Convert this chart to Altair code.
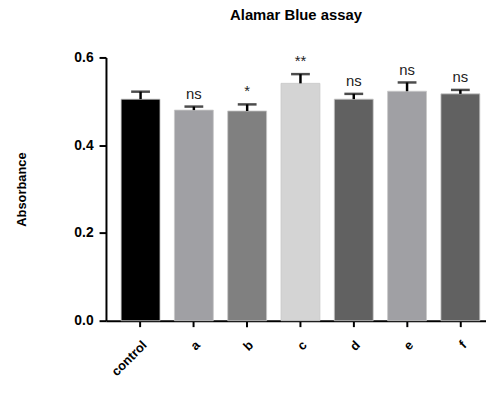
import altair as alt
import pandas as pd

groups = ["control", "a", "b", "c", "d", "e", "f"]
means = [0.505, 0.480, 0.478, 0.541, 0.505, 0.523, 0.517]
errors = [0.017, 0.008, 0.015, 0.021, 0.012, 0.020, 0.009]
colors = ["#000000", "#a0a0a4", "#808080", "#d4d4d4", "#616161", "#a0a0a4", "#616161"]
signif = ["", "ns", "*", "**", "ns", "ns", "ns"]

df = pd.DataFrame({"group": groups, "mean": means, "err": errors,
                   "color": colors, "sig": signif})
df["top"] = df["mean"] + df["err"]

FONT = "Liberation Sans"

x = alt.X("group:N", sort=groups,
          scale=alt.Scale(paddingInner=0.27, paddingOuter=0.2, align=0.71),
          axis=alt.Axis(title=None, labelAngle=-45, labelFont=FONT, labelFontWeight="bold",
                        labelFontSize=13, labelColor="black", tickSize=6, tickWidth=2,
                        tickColor="black", domainWidth=2, domainColor="black",
                        labelPadding=12))
y = alt.Y("mean:Q", scale=alt.Scale(domain=[0, 0.6], nice=False),
          axis=alt.Axis(title="Absorbance", values=[0, 0.2, 0.4, 0.6], format=".1f",
                        labelFont=FONT, labelFontWeight="bold", labelFontSize=14,
                        labelColor="black", tickSize=7, tickWidth=2, tickColor="black",
                        domainWidth=2, domainColor="black", grid=False,
                        titleFont=FONT, titleFontWeight="bold", titleFontSize=13,
                        titleColor="black", titlePadding=46, labelPadding=6))

base = alt.Chart(df)

bars = base.mark_bar(stroke="#c8c8c8", strokeWidth=0.8).encode(
    x=x, y=y, color=alt.Color("color:N", scale=None))

stems = base.mark_rule(color="black", strokeWidth=2.5).encode(
    x=alt.X("group:N", sort=groups), y=alt.Y("mean:Q"), y2="top:Q")

caps = base.mark_tick(color="black", thickness=2.5, size=19, orient="horizontal").encode(
    x=alt.X("group:N", sort=groups), y=alt.Y("top:Q"))

labels = base.mark_text(font=FONT, fontSize=15, color="#222222", baseline="bottom",
                        dy=-5).encode(
    x=alt.X("group:N", sort=groups), y=alt.Y("top:Q"), text="sig:N")

chart = alt.layer(bars, stems, caps, labels).properties(
    width=384, height=266,
    title=alt.TitleParams("Alamar Blue assay", font=FONT, fontSize=15, fontWeight="bold",
                          color="black", anchor="middle", offset=28),
    autosize=alt.AutoSizeParams(type="none"),
    padding={"left": 99, "top": 48, "right": 0, "bottom": 62},
).configure_view(stroke=None)

chart.save("out.html", embed_options={"renderer": "svg", "actions": False})
